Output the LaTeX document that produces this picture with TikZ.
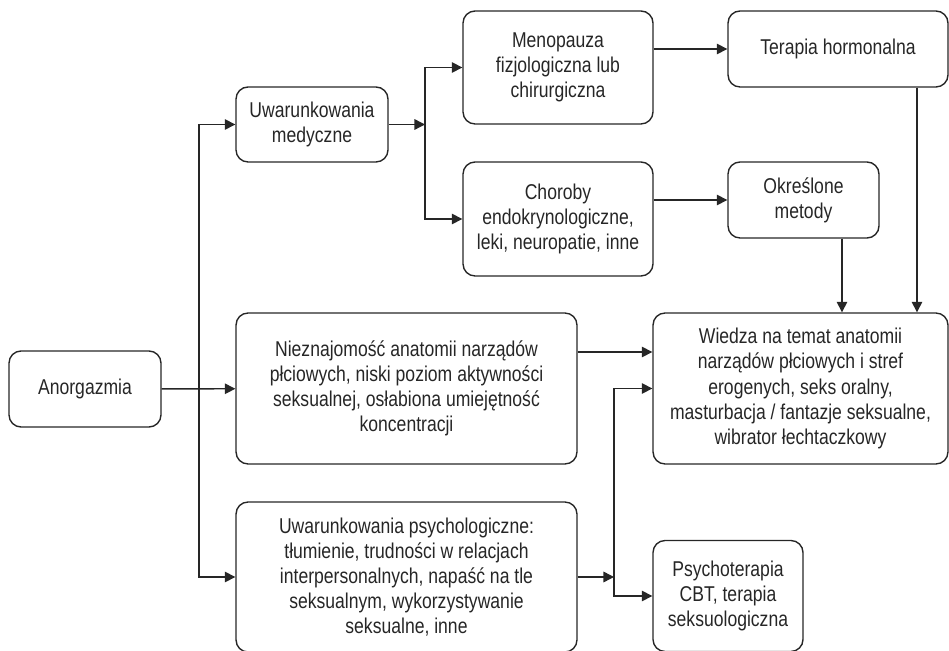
\documentclass[tikz,border=0pt]{standalone}
\usepackage{fontspec}
\setmainfont[FakeStretch=0.82]{Liberation Sans}
\usepackage{tikz}
\usetikzlibrary{arrows.meta,positioning}

\begin{document}
\begin{tikzpicture}[
    x=0.02cm,
    y=-0.02cm,
    box/.style={
        rectangle,
        rounded corners=0.24cm,
        draw=black!85,
        line width=0.8pt,
        align=center,
        font=\fontsize{12.2}{14.3}\selectfont,
        text=black!85
    },
    arrow/.style={
        line width=0.8pt,
        draw=black!85,
        -{Triangle[length=6pt,width=6pt]}
    }
]
\useasboundingbox (0,0) rectangle (949,651);

% Przyczyna
\node[box, minimum width=3.04cm, minimum height=1.52cm] (anorg) at (85,389) {Anorgazmia};

% Uwarunkowania
\node[box, minimum width=3.04cm, minimum height=1.5cm] (med) at (312,124.5) {Uwarunkowania\\medyczne};
\node[box, minimum width=6.82cm, minimum height=3.02cm] (niez) at (406.5,388.5) {
    Nieznajomość anatomii narządów\\
    płciowych, niski poziom aktywności\\
    seksualnej, osłabiona umiejętność\\
    koncentracji
};
\node[box, minimum width=6.82cm, minimum height=3.0cm] (psych) at (406.5,577) {
    Uwarunkowania psychologiczne:\\
    tłumienie, trudności w relacjach\\
    interpersonalnych, napaść na tle\\
    seksualnym, wykorzystywanie\\
    seksualne, inne
};

% Przyczyny medyczne
\node[box, minimum width=3.8cm, minimum height=2.26cm] (meno) at (558,67.5) {
    Menopauza\\
    fizjologiczna lub\\
    chirurgiczna
};
\node[box, minimum width=3.8cm, minimum height=2.28cm] (chor) at (558,219) {
    Choroby\\
    endokrynologiczne,\\
    leki, neuropatie, inne
};

% Leczenie
\node[box, minimum width=4.4cm, minimum height=1.52cm] (ter) at (838,49) {Terapia hormonalna};
\node[box, minimum width=3.02cm, minimum height=1.52cm] (okr) at (803.5,200) {Określone\\metody};
\node[box, minimum width=5.9cm, minimum height=3.02cm] (wiedza) at (800.5,388.5) {
    Wiedza na temat anatomii\\
    narządów płciowych i stref\\
    erogenych, seks oralny,\\
    masturbacja / fantazje seksualne,\\
    wibrator łechtaczkowy
};
\node[box, minimum width=3.0cm, minimum height=2.22cm] (psycho) at (728,596) {
    Psychoterapia\\
    CBT, terapia\\
    seksuologiczna
};

% Punkty rozgałęzień
\coordinate (j1) at (199,389);
\coordinate (j2) at (425,124.5);
\coordinate (j3) at (614,577);

% Od Anorgazmii
\draw[arrow] (anorg) -- (niez);
\draw[arrow] (j1) |- (med);
\draw[arrow] (j1) |- (psych);

% Uwarunkowania medyczne
\draw[arrow] (med) -- (j2);
\draw[arrow] (j2) |- (meno);
\draw[arrow] (j2) |- (chor);
\draw[arrow] (meno.east |- ter) -- (ter);
\draw[arrow] (chor.east |- okr) -- (okr);

% Do wiedzy
\draw[arrow] ([xshift=0.77cm]okr.south) -- ([xshift=0.77cm]okr.south |- wiedza.north);
\draw[arrow] ([xshift=1.58cm]ter.south) -- ([xshift=1.58cm]ter.south |- wiedza.north);
\draw[arrow] ([yshift=0.73cm]niez.east) -- ([yshift=0.73cm]wiedza.west);

% Uwarunkowania psychologiczne
\draw[arrow] (psych) -- (j3);
\draw[arrow] (j3) |- (wiedza);
\draw[arrow] (j3) |- (psycho);

\end{tikzpicture}
\end{document}
